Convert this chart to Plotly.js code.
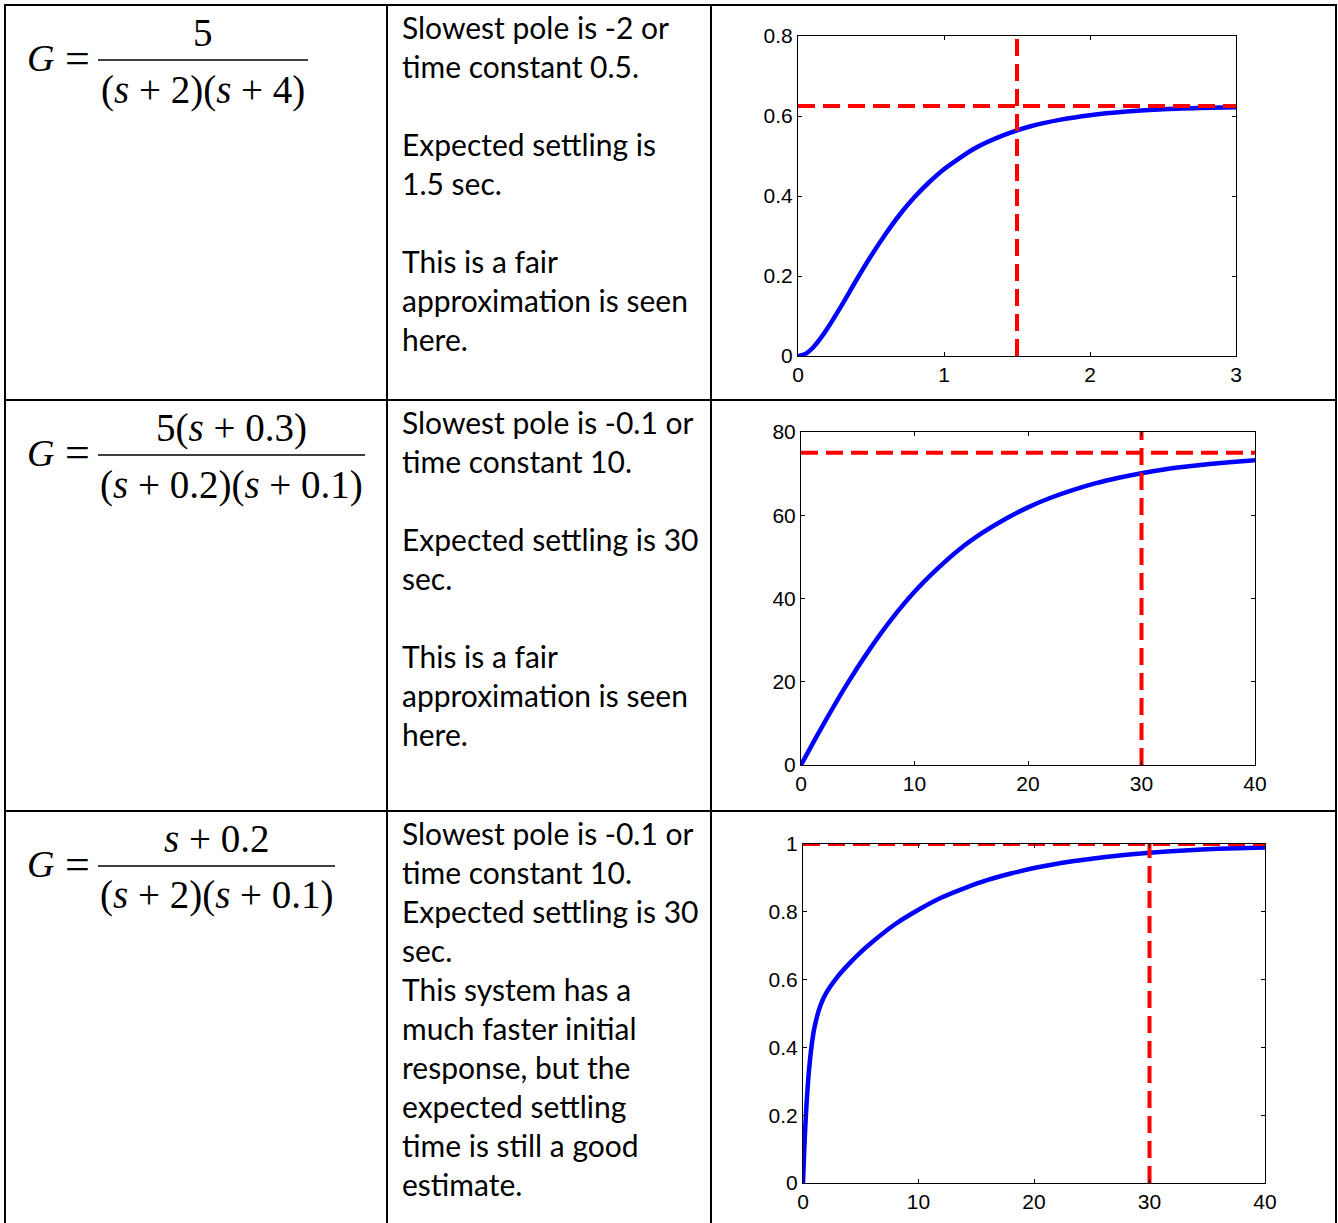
<!DOCTYPE html>
<html>
<head>
<meta charset="utf-8">
<script src="https://cdn.plot.ly/plotly-3.0.1.min.js"></script>
<style>html,body{margin:0;padding:0;background:#fff;}#chart{width:1338px;height:1223px;}</style>
</head>
<body>
<div id="chart"></div>
<script>
// ---------- DATA ----------
// Plot 1: G = 5/((s+2)(s+4))
const time1 = [0, 0.05, 0.1, 0.15, 0.2, 0.3, 0.4, 0.5, 0.6, 0.7, 0.8, 0.9, 1.0, 1.2, 1.4, 1.6, 1.8, 2.0, 2.25, 2.5, 2.75, 3.0];
const resp1 = [0, 0.005, 0.02, 0.042, 0.068, 0.127, 0.19, 0.25, 0.305, 0.355, 0.398, 0.435, 0.467, 0.517, 0.551, 0.575, 0.591, 0.602, 0.611, 0.617, 0.62, 0.622];
// Plot 2: G = 5(s+0.3)/((s+0.2)(s+0.1))
const time2 = [0, 1, 2, 4, 6, 8, 10, 12, 14, 16, 18, 20, 22, 24, 26, 28, 30, 32, 34, 36, 38, 40];
const resp2 = [0, 5.0, 9.9, 19.2, 27.6, 35.1, 41.6, 47.1, 51.9, 55.8, 59.1, 61.9, 64.2, 66.1, 67.7, 69.0, 70.1, 71.0, 71.7, 72.3, 72.8, 73.2];
// Plot 3: G = (s+0.2)/((s+2)(s+0.1))
const time3 = [0, 0.1, 0.2, 0.3, 0.5, 0.75, 1, 1.5, 2, 3, 4, 5, 6, 8, 10, 12, 14, 16, 18, 20, 22, 24, 26, 28, 30, 33, 36, 40];
const resp3 = [0, 0.091, 0.167, 0.229, 0.325, 0.406, 0.46, 0.523, 0.56, 0.609, 0.647, 0.681, 0.711, 0.764, 0.806, 0.842, 0.87, 0.894, 0.913, 0.929, 0.942, 0.952, 0.961, 0.968, 0.974, 0.981, 0.986, 0.99];

// Reference (red dashed) lines
const settleTime = [1.5, 30, 30];
const finalValue = [0.625, 75, 1];
const xMax = [3, 40, 40];
const yMax = [0.8, 80, 1];
const xTickStep = [1, 10, 10];
const yTickStep = [0.2, 20, 0.2];

// Table texts
const textRow1 = ["Slowest pole is -2 or", "time constant 0.5.", "", "Expected settling is", "1.5 sec.", "", "This is a fair", "approximation is seen", "here."];
const textRow2 = ["Slowest pole is -0.1 or", "time constant 10.", "", "Expected settling is 30", "sec.", "", "This is a fair", "approximation is seen", "here."];
const textRow3 = ["Slowest pole is -0.1 or", "time constant 10.", "Expected settling is 30", "sec.", "This system has a", "much faster initial", "response, but the", "expected settling", "time is still a good", "estimate."];

const numerators = ["5", "5(<i>s</i> + 0.3)", "<i>s</i> + 0.2"];
const denominators = ["(<i>s</i> + 2)(<i>s</i> + 4)", "(<i>s</i> + 0.2)(<i>s</i> + 0.1)", "(<i>s</i> + 2)(<i>s</i> + 0.1)"];

// ---------- LAYOUT GEOMETRY ----------
const W = 1338, H = 1223;
const px = v => v / W;
const py = v => 1 - v / H;

const plotBoxes = [
  {x0: 798, x1: 1236, y0: 36, y1: 356},
  {x0: 801, x1: 1255, y0: 432, y1: 765},
  {x0: 803, x1: 1265, y0: 844, y1: 1183}
];
const times = [time1, time2, time3];
const resps = [resp1, resp2, resp3];

const traces = [];
const layout = {
  width: W, height: H,
  margin: {l: 0, r: 0, t: 0, b: 0},
  paper_bgcolor: "#fff", plot_bgcolor: "#fff",
  showlegend: false,
  shapes: [], annotations: []
};

const tickFont = {family: "Liberation Sans, Arial", size: 21, color: "#000"};
for (let i = 0; i < 3; i++) {
  const n = i === 0 ? "" : String(i + 1);
  const b = plotBoxes[i];
  const xa = "x" + n, ya = "y" + n;
  layout["xaxis" + n] = {
    domain: [px(b.x0), px(b.x1)], anchor: ya, range: [0, xMax[i]],
    dtick: xTickStep[i], tick0: 0, showgrid: false, zeroline: false,
    showline: true, mirror: "ticks", linecolor: "#000", linewidth: 1,
    ticks: "inside", ticklen: 4, tickcolor: "#000", ticklabelstandoff: 0,
    tickfont: tickFont
  };
  layout["yaxis" + n] = {
    domain: [py(b.y1), py(b.y0)], anchor: xa, range: [0, yMax[i]],
    dtick: yTickStep[i], tick0: 0, showgrid: false, zeroline: false,
    showline: true, mirror: "ticks", linecolor: "#000", linewidth: 1,
    ticks: "inside", ticklen: 4, tickcolor: "#000",
    tickfont: tickFont
  };
  traces.push({x: times[i], y: resps[i], xaxis: xa, yaxis: ya, type: "scatter", mode: "lines",
    line: {color: "#0000ff", width: 4.5, shape: "spline", smoothing: 0.6}, hoverinfo: "skip"});
  traces.push({x: [0, xMax[i]], y: [finalValue[i], finalValue[i]], xaxis: xa, yaxis: ya, type: "scatter", mode: "lines",
    line: {color: "#ff0000", width: 4, dash: "17px,8px"}, hoverinfo: "skip"});
  traces.push({x: [settleTime[i], settleTime[i]], y: [0, yMax[i]], xaxis: xa, yaxis: ya, type: "scatter", mode: "lines",
    line: {color: "#ff0000", width: 4, dash: "17px,8px"}, hoverinfo: "skip"});
}

// Table lines
function hline(y, x0, x1) { layout.shapes.push({type: "line", xref: "paper", yref: "paper", x0: px(x0), x1: px(x1), y0: py(y), y1: py(y), line: {color: "#000", width: 2}}); }
function vline(x, y0, y1) { layout.shapes.push({type: "line", xref: "paper", yref: "paper", x0: px(x), x1: px(x), y0: py(y0), y1: py(y1), line: {color: "#000", width: 2}}); }
hline(5, 4, 1337);
hline(400, 4, 1337);
hline(811, 4, 1337);
vline(5, 4, 1223);
vline(387, 4, 1223);
vline(711, 4, 1223);
vline(1336, 4, 1223);

// Cell text
const textFont = {family: "Lato, Carlito, Calibri, sans-serif", size: 30, color: "#000"};
function addLines(lines, yStart) {
  lines.forEach((s, k) => {
    if (!s) return;
    layout.annotations.push({xref: "paper", yref: "paper", x: px(400), y: py(yStart + 39 * k),
      xanchor: "left", yanchor: "middle", showarrow: false, text: s, font: textFont});
  });
}
addLines(textRow1, 27);
addLines(textRow2, 422);
addLines(textRow3, 833);

// Formulas
const mathFont = {family: "Liberation Serif, Times New Roman, serif", size: 39, color: "#000"};
const gFont = {family: "Liberation Serif, Times New Roman, serif", size: 38, color: "#000"};
const eqFont = {family: "Liberation Serif, Times New Roman, serif", size: 44, color: "#000"};
const fracs = [
  {bx0: 98, bx1: 308, by: 60, ny: 33, dy: 90},
  {bx0: 98, bx1: 365, by: 455, ny: 428, dy: 485},
  {bx0: 98, bx1: 335, by: 866, ny: 838, dy: 895}
];
fracs.forEach((f, i) => {
  const cx = (f.bx0 + f.bx1) / 2;
  layout.shapes.push({type: "line", xref: "paper", yref: "paper", x0: px(f.bx0), x1: px(f.bx1), y0: py(f.by), y1: py(f.by), line: {color: "#000", width: 1.5}});
  layout.annotations.push({xref: "paper", yref: "paper", x: px(25), y: py(f.by - 2), xanchor: "left", yanchor: "middle", showarrow: false, text: "<i>G</i>", font: gFont});
  layout.annotations.push({xref: "paper", yref: "paper", x: px(77), y: py(f.by - 2), xanchor: "center", yanchor: "middle", showarrow: false, text: "=", font: eqFont});
  layout.annotations.push({xref: "paper", yref: "paper", x: px(cx), y: py(f.ny), xanchor: "center", yanchor: "middle", showarrow: false, text: numerators[i], font: mathFont});
  layout.annotations.push({xref: "paper", yref: "paper", x: px(cx), y: py(f.dy), xanchor: "center", yanchor: "middle", showarrow: false, text: denominators[i], font: mathFont});
});

Plotly.newPlot("chart", traces, layout, {staticPlot: true, displayModeBar: false});
</script>
</body>
</html>
